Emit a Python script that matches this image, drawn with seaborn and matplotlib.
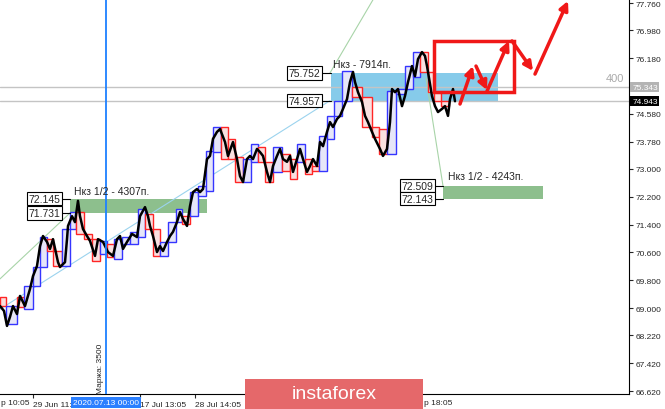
import matplotlib
matplotlib.use("Agg")
import seaborn as sns
import matplotlib.pyplot as plt
from matplotlib.patches import Rectangle

# price path (x = bar position, y = price)
price_x = [0, 4, 7, 10, 13, 17, 20, 25, 30, 33, 37, 40, 43, 47, 50, 53, 58, 60, 65, 67,
           68, 72, 75, 78, 80, 83, 87, 90, 95, 98, 103, 108, 113, 117, 120, 123, 127, 132, 137, 140,
           145, 148, 150, 153, 157, 160, 163, 167, 170, 173, 177, 180, 183, 187, 190, 193, 197, 200, 203, 207,
           210, 213, 217, 220, 225, 228, 233, 237, 240, 243, 247, 250, 253, 257, 260, 263, 267, 270, 273, 277,
           280, 283, 287, 290, 293, 297, 300, 303, 307, 310, 313, 317, 320, 323, 327, 330, 333, 337, 340, 343,
           347, 350, 353, 355, 358, 362, 365, 368, 372, 375, 380, 383, 387, 390, 392, 395, 398, 402, 405, 408,
           412, 415, 418, 422, 425, 427, 428, 432, 435, 438, 442, 445, 448, 450, 453, 455]
price_y = [69.06, 68.92, 68.49, 68.75, 69.06, 68.83, 69.35, 69.06, 69.55, 69.92, 70.21, 70.78, 71.07, 70.90, 70.70, 70.98, 70.32, 70.18, 70.32, 70.98,
           71.36, 71.64, 71.47, 72.08, 71.64, 71.27, 71.07, 70.93, 70.50, 70.98, 70.90, 70.61, 70.50, 70.98, 71.07, 70.70, 70.90, 71.13, 71.04, 71.64,
           71.90, 71.64, 71.36, 71.07, 70.61, 70.78, 70.64, 70.90, 71.07, 71.19, 71.47, 71.76, 71.56, 71.36, 71.93, 72.33, 72.42, 72.33, 72.42, 73.28,
           73.37, 73.86, 74.06, 74.14, 73.77, 73.37, 73.77, 73.28, 72.79, 72.62, 73.28, 73.37, 73.28, 73.57, 73.48, 73.37, 72.91, 72.62, 73.08, 73.37,
           73.57, 73.28, 73.20, 73.37, 72.91, 73.28, 73.57, 73.28, 72.91, 73.08, 73.28, 73.08, 73.77, 73.65, 74.06, 74.34, 74.20, 74.43, 74.52, 74.72,
           75.00, 75.49, 75.78, 75.49, 75.20, 74.92, 74.52, 74.34, 74.06, 73.86, 73.57, 73.37, 73.57, 74.34, 75.29, 75.20, 75.29, 74.80, 75.09, 75.49,
           75.95, 75.66, 76.15, 76.35, 76.24, 75.95, 75.78, 75.09, 74.80, 74.63, 74.72, 74.80, 74.52, 75.00, 75.29, 74.94]

# higher timeframe boxes: edges on the time axis, open and close prices
box_edges = [0, 6, 17, 24, 33, 40, 47, 53, 62, 70, 76, 84, 92, 100, 107, 114, 122, 130, 138, 145,
             153, 160, 168, 176, 182, 190, 198, 206, 213, 221, 228, 235, 243, 251, 258, 265, 273, 282, 290, 297,
             305, 312, 319, 327, 334, 342, 352, 362, 372, 379, 387, 396, 405, 413, 420, 428, 434, 441, 449]
box_open = [69.32, 68.54, 69.32, 68.97, 69.64, 70.18, 70.98, 70.64, 70.21, 71.27, 71.76, 71.13, 70.98, 70.55, 70.84,
            70.41, 70.84, 70.84, 71.04, 71.70, 71.27, 70.50, 70.90, 71.47, 71.64, 71.64, 72.22, 72.36, 73.48, 74.20,
            73.86, 73.34, 72.62, 73.20, 73.63, 73.20, 72.91, 73.43, 73.28, 73.20, 73.28, 73.08, 72.94, 73.86, 74.52,
            74.95, 75.35, 75.06, 74.20, 74.14, 73.43, 75.15, 75.29, 75.64, 76.35, 75.78, 75.20, 74.95]
box_close = [69.06, 69.06, 69.03, 69.64, 70.18, 71.04, 70.64, 70.21, 71.27, 71.76, 71.13, 70.98, 70.35, 70.93, 70.47,
             70.98, 71.04, 71.19, 71.85, 71.27, 70.50, 70.90, 71.47, 71.85, 71.42, 72.33, 72.51, 73.51, 74.20, 73.28,
             73.28, 72.62, 73.28, 73.71, 73.20, 72.62, 73.63, 72.94, 72.71, 73.71, 72.85, 72.94, 73.94, 74.52, 74.95,
             75.81, 75.06, 74.20, 73.91, 73.43, 75.23, 75.29, 75.95, 76.35, 75.78, 75.20, 74.95, 74.80]

# zones and levels
blue_zone = [75.752, 74.957]
green_zone_left = [72.145, 71.731]
green_zone_right = [72.509, 72.143]
ray_levels = [75.343, 74.943]
y_ticks = [77.76, 76.98, 76.18, 74.58, 73.78, 73.0, 72.2, 71.4, 70.6, 69.8, 69.0, 68.22, 67.42, 66.62]
x_tick_pos = [33, 140, 195]
x_tick_labels = ["29 Jun 11:05", "17 Jul 13:05", "28 Jul 14:05"]

# forecast drawn in red
forecast_box = [76.67, 75.20]
arrow_x0 = [460, 476, 487, 512, 535]
arrow_y0 = [74.86, 75.95, 75.23, 76.67, 75.72]
arrow_x1 = [473, 487, 509, 533, 568]
arrow_y1 = [75.95, 75.26, 76.67, 75.81, 77.82]

sns.set_style("white")
plt.rcParams["font.family"] = ["Liberation Sans", "DejaVu Sans"]

fig = plt.figure(figsize=(6.65, 4.10), dpi=100)
ax = fig.add_axes([0, 15 / 410, 629 / 665, 395 / 410])
ax.set_xlim(0, 629)
ax.set_ylim(66.535, 77.875)

# zones
ax.add_patch(Rectangle((331, blue_zone[1]), 167, blue_zone[0] - blue_zone[1], fc="#86CBEA", ec="none", zorder=1))
ax.add_patch(Rectangle((70, green_zone_left[1]), 137, green_zone_left[0] - green_zone_left[1], fc="#8DBF8D", ec="none", zorder=1))
ax.add_patch(Rectangle((443, green_zone_right[1]), 100, green_zone_right[0] - green_zone_right[1], fc="#8DBF8D", ec="none", zorder=1))

for lv in ray_levels:
    ax.axhline(lv, color="#C4C4C4", lw=1, zorder=1.5)

# thin trend lines
ax.plot([0, 330], [68.97, blue_zone[1]], color="#9BD3EE", lw=0.8, zorder=1.6)
ax.plot([0, 70], [69.84, green_zone_left[1]], color="#A8D4A8", lw=0.8, zorder=1.6)
ax.plot([330, 376], [blue_zone[0], 78.0], color="#A8D4A8", lw=0.8, zorder=1.6)
ax.plot([426, 443], [75.6, green_zone_right[0]], color="#A8D4A8", lw=0.8, zorder=1.6)

# boxes
for i in range(len(box_open)):
    o, c = box_open[i], box_close[i]
    up = c >= o
    ax.add_patch(Rectangle((box_edges[i], min(o, c)), box_edges[i + 1] - box_edges[i], abs(c - o),
                           fc="#E6E6F8" if up else "#F9E0E0", ec="#3535FF" if up else "#FF2525",
                           lw=1.0, zorder=2))

sns.lineplot(x=price_x, y=price_y, ax=ax, color="black", lw=1.8, sort=False, estimator=None, zorder=3)

# marker line
ax.axvline(106, color="#1E80FF", lw=1.3, zorder=3.5)
ax.text(101, 67.28, "Маржа: 3500", rotation=90, fontsize=6, ha="center", va="center", zorder=4)

# level labels
def level_label(x_right, x_zone, y, txt):
    ax.text(x_right, y, txt, ha="right", va="center", fontsize=7.5, zorder=6,
            bbox=dict(boxstyle="square,pad=0.15", fc="white", ec="black", lw=0.8))
    ax.plot([x_right + 1.5, x_zone], [y, y], color="black", lw=0.8, zorder=5)

level_label(60.5, 70, green_zone_left[0], "72.145")
level_label(60.5, 70, green_zone_left[1], "71.731")
level_label(320.5, 331, blue_zone[0], "75.752")
level_label(320.5, 331, blue_zone[1], "74.957")
level_label(433.5, 443, green_zone_right[0], "72.509")
level_label(433.5, 443, green_zone_right[1], "72.143")

ax.text(74, 72.36, "Нкз 1/2 - 4307п.", fontsize=7.5, ha="left", va="center", zorder=6)
ax.text(333, 76.01, "Нкз - 7914п.", fontsize=7.5, ha="left", va="center", zorder=6)
ax.text(448, 72.79, "Нкз 1/2 - 4243п.", fontsize=7.5, ha="left", va="center", zorder=6)
ax.text(615, 75.61, "400", fontsize=8, color="#AAAAAA", ha="center", va="center")

# forecast
ax.add_patch(Rectangle((434, forecast_box[1]), 80, forecast_box[0] - forecast_box[1],
                       fc="none", ec="#F01818", lw=2.5, zorder=7))
for i in range(len(arrow_x0)):
    ax.annotate("", xy=(arrow_x1[i], arrow_y1[i]), xytext=(arrow_x0[i], arrow_y0[i]),
                arrowprops=dict(arrowstyle="-|>", color="#F01818", lw=2.5, mutation_scale=13,
                                shrinkA=0, shrinkB=0), zorder=7)

# axes
for s in ["top", "left"]:
    ax.spines[s].set_visible(False)
for s in ["right", "bottom"]:
    ax.spines[s].set_color("black")
    ax.spines[s].set_linewidth(0.8)
ax.yaxis.tick_right()
ax.set_yticks(y_ticks)
ax.set_yticklabels([f"{v:.3f}" for v in y_ticks])
ax.tick_params(axis="y", labelsize=6, length=3, width=0.8, pad=2, right=True, left=False)
ax.set_xticks(x_tick_pos)
ax.set_xticklabels(x_tick_labels)
ax.tick_params(axis="x", labelsize=6, length=3, width=0.8, pad=2, bottom=True)
for lbl in ax.get_xticklabels():
    lbl.set_ha("left")

ytr = ax.get_yaxis_transform()
ax.text(1.005, ray_levels[0], "75.343", transform=ytr, fontsize=6, color="white", ha="left", va="center",
        bbox=dict(boxstyle="square,pad=0.2", fc="#B4B4B4", ec="none"), clip_on=False)
ax.text(1.005, ray_levels[1], "74.943", transform=ytr, fontsize=6, color="white", ha="left", va="center",
        bbox=dict(boxstyle="square,pad=0.2", fc="black", ec="none"), clip_on=False)

xtr = ax.get_xaxis_transform()
ax.text(1, -0.022, "p 10:05", transform=xtr, fontsize=6, ha="left", va="center", clip_on=False)
ax.text(424, -0.022, "p 18:05", transform=xtr, fontsize=6, ha="left", va="center", clip_on=False)
ax.text(106, -0.022, "2020.07.13 00:00", transform=xtr, fontsize=6, color="white", ha="center", va="center",
        bbox=dict(boxstyle="square,pad=0.25", fc="#2A7FFF", ec="none"), clip_on=False, zorder=8)

# watermark
fig.add_artist(Rectangle((245 / 665, 0), 178 / 665, 30 / 410, transform=fig.transFigure,
                         fc="#E5686A", ec="none", zorder=10))
fig.text(334 / 665, 15 / 410, "instaforex", color="white", fontsize=14, ha="center", va="center", zorder=11)

fig.savefig("out.png", dpi=100)
